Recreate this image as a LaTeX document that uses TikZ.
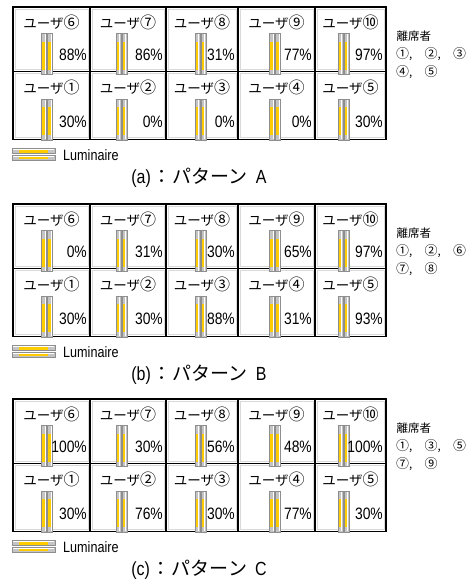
\documentclass[tikz,border=0pt]{standalone}
\usepackage{fontspec}
\newfontfamily\lat{Liberation Sans}[FakeStretch=0.84]
\newfontfamily\jp{Noto Sans CJK JP}
\definecolor{lumy}{HTML}{FFCC00}
\definecolor{tubefill}{HTML}{C4C4C4}
\definecolor{tubeline}{HTML}{8E8E8E}
\tikzset{
  x=1pt, y=-1pt,
  gridline/.style={line width=1.8pt, black},
  cellshade/.style={draw=black!15, line width=0.8pt},
  ttl/.style={font=\fontsize{13.5}{13.5}\selectfont\jp, inner sep=0pt},
  pc/.style={font=\fontsize{16.5}{16.5}\selectfont\lat, inner sep=0pt, anchor=east},
  absent/.style={font=\fontsize{11.5}{11.5}\selectfont\jp, inner sep=0pt, anchor=west},
  legtext/.style={font=\fontsize{15}{15}\selectfont\lat, inner sep=0pt, anchor=west},
  lumv/.pic={
    \foreach \dx in {-3.1,3.1}{
      \filldraw[fill=tubefill, draw=tubeline, line width=0.5pt] (\dx-2.6,-20.5) rectangle (\dx+2.6,20.5);
      \fill[white] (\dx+0.6,-19.8) rectangle (\dx+1.5,19.8);
      \fill[lumy] (\dx-1.7,-12.5) rectangle (\dx+0.6,15.5);
    }
  },
  lumh/.pic={
    \foreach \dy in {-3.4,3.4}{
      \filldraw[fill=tubefill, draw=tubeline, line width=0.5pt] (-21.5,\dy-2.4) rectangle (21.5,\dy+2.4);
      \fill[white] (-20.8,\dy-1.7) rectangle (20.8,\dy-0.9);
      \fill[lumy] (-14.5,\dy-0.9) rectangle (14.5,\dy+1.4);
    }
  }
}
\newcommand\ttlcirc[1]{{\fontsize{16}{13.5}\selectfont #1}}
\newcommand\abcirc[1]{{\fontsize{13}{11.5}\selectfont #1}}
% #1 top y, #2 id, #3 top pcts, #4 bottom pcts, #5 absent line 2, #6 absent line 3, #7 letter, #8 capital
\newcommand\drawpanel[8]{%
  \begin{scope}[yshift=-#1pt]
    % cell shading
    \foreach \i in {1,...,5}{
      \pgfmathsetmacro{\cl}{{13,90,166,238,315}[\i-1]}
      \pgfmathsetmacro{\cr}{{90,166,238,315,386}[\i-1]}
      \draw[cellshade] (\cl+2,2) rectangle (\cr-2,62.5);
      \draw[cellshade] (\cl+2,66.5) rectangle (\cr-2,130.5);
    }
    % grid
    \draw[gridline] (13,0) rectangle (386,132.5);
    \draw[gridline] (13,64.5) -- (386,64.5);
    \foreach \xx in {90,166,238,315}{
      \draw[gridline] (\xx,0) -- (\xx,132.5);
    }
    % top row
    \foreach \uu [count=\i] in {⑥,⑦,⑧,⑨,⑩}{
      \pgfmathsetmacro{\cl}{{13,90,166,238,315}[\i-1]}
      \pgfmathsetmacro{\cr}{{90,166,238,315,386}[\i-1]}
      \pgfmathsetmacro{\lc}{{47,121.5,200.5,275,343.5}[\i-1]}
      \pgfmathtruncatemacro{\pv}{{#3}[\i-1]}
      \node[ttl] (#2-tt\i) at ({(\cl+\cr)/2},15.5) {ユーザ\ttlcirc{\uu}};
      \pic at (\lc,47) {lumv};
      \node[pc] (#2-tp\i) at (\cr-3,48) {\pv\%};
    }
    % bottom row
    \foreach \uu [count=\i] in {①,②,③,④,⑤}{
      \pgfmathsetmacro{\cl}{{13,90,166,238,315}[\i-1]}
      \pgfmathsetmacro{\cr}{{90,166,238,315,386}[\i-1]}
      \pgfmathsetmacro{\lc}{{47,121.5,200.5,275,343.5}[\i-1]}
      \pgfmathtruncatemacro{\pv}{{#4}[\i-1]}
      \node[ttl] (#2-bt\i) at ({(\cl+\cr)/2},80.5) {ユーザ\ttlcirc{\uu}};
      \pic at (\lc,112.5) {lumv};
      \node[pc] (#2-bp\i) at (\cr-3,114.5) {\pv\%};
    }
    % absent block
    \node[absent] (#2-ab0) at (396.5,29) {離席者};
    \node[absent] (#2-ab1) at (396,47) {#5};
    \node[absent] (#2-ab2) at (396,65) {#6};
    % legend
    \pic at (33.5,147.5) {lumh};
    \node[legtext] (#2-leg) at (63,148) {Luminaire};
    % caption
    \node[inner sep=0pt] (#2-cap) at (199,171)
      {\fontsize{19}{19}\selectfont\lat (#7)\hspace{1.5pt}\jp ：\hspace{1.5pt}パターン\lat\hspace{8pt}#8};
  \end{scope}
}
\newcommand\ab[1]{\makebox[28.5pt][l]{\abcirc{#1},}}
\begin{document}
\begin{tikzpicture}
  \useasboundingbox (0,0) rectangle (472,584);
  \fill[white] (0,0) rectangle (472,584);
  \drawpanel{7}{pa}{88,86,31,77,97}{30,0,0,0,30}{\ab{①}\ab{②}\abcirc{③}}{\ab{④}\abcirc{⑤}}{a}{A}
  \drawpanel{204}{pb}{0,31,30,65,97}{30,30,88,31,93}{\ab{①}\ab{②}\abcirc{⑥}}{\ab{⑦}\abcirc{⑧}}{b}{B}
  \drawpanel{399}{pc}{100,30,56,48,100}{30,76,30,77,30}{\ab{①}\ab{③}\abcirc{⑤}}{\ab{⑦}\abcirc{⑨}}{c}{C}
\end{tikzpicture}
\end{document}
